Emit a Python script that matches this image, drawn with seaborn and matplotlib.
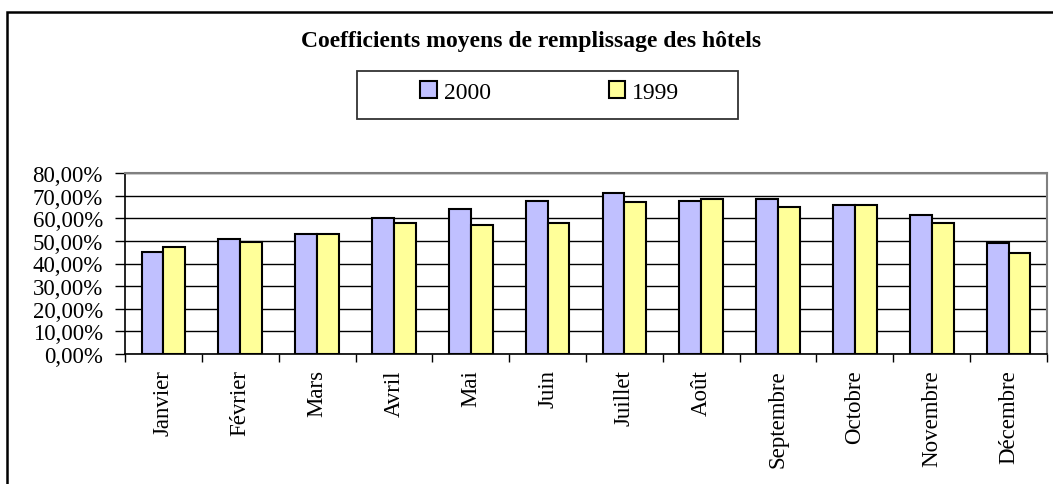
import numpy as np
import pandas as pd
import matplotlib.pyplot as plt
import matplotlib.patches as mpatches
from matplotlib.ticker import FixedLocator
import seaborn as sns

months = ["Janvier", "Février", "Mars", "Avril", "Mai", "Juin",
          "Juillet", "Août", "Septembre", "Octobre", "Novembre", "Décembre"]
taux_2000 = [0.45, 0.51, 0.53, 0.60, 0.64, 0.675, 0.71, 0.675, 0.685, 0.66, 0.615, 0.49]
taux_1999 = [0.475, 0.494, 0.53, 0.58, 0.572, 0.58, 0.67, 0.685, 0.65, 0.66, 0.58, 0.448]
series = ["2000", "1999"]
colors = {"2000": "#C0C0FF", "1999": "#FFFF99"}
y_ticks = [0.0, 0.1, 0.2, 0.3, 0.4, 0.5, 0.6, 0.7, 0.8]

df = pd.DataFrame({
    "Mois": months * 2,
    "Taux": taux_2000 + taux_1999,
    "Année": ["2000"] * len(months) + ["1999"] * len(months),
})

sns.set_theme(style="white")
plt.rcParams["font.family"] = ["Liberation Serif", "DejaVu Serif"]
plt.rcParams.update({"text.color": "black", "xtick.color": "black",
                     "ytick.color": "black", "axes.labelcolor": "black"})

W, H = 1053, 485
fig = plt.figure(figsize=(W / 100, H / 100), dpi=100)

# outer chart frame (only left and top edges visible)
fig.patches.append(mpatches.Rectangle((7 / W, -10 / H), (W + 10) / W, (H - 3) / H,
                                      transform=fig.transFigure, fill=False,
                                      edgecolor="black", linewidth=1.8))

ax = fig.add_axes([125 / W, (H - 355) / H, 922 / W, 181 / H])
sns.barplot(data=df, x="Mois", y="Taux", hue="Année", hue_order=series,
            palette=colors, width=0.57, edgecolor="black", linewidth=1.5,
            saturation=1, legend=False, ax=ax)

ax.set_ylim(0, 0.8)
ax.set_xlim(-0.5, len(months) - 0.5)
ax.yaxis.set_major_locator(FixedLocator(y_ticks))
ax.yaxis.set_major_formatter(lambda v, p: f"{v * 100:.2f}%".replace(".", ","))
ax.grid(axis="y", color="black", linewidth=1)
ax.set_axisbelow(True)
ax.set_xlabel("")
ax.set_ylabel("")

# category ticks sit between months
ax.set_xticks(np.arange(len(months)))
ax.set_xticklabels(months, rotation=90, fontsize=16.5)
ax.tick_params(axis="x", length=0, pad=11)
ax.set_xticks(np.arange(-0.5, len(months)), minor=True)
ax.tick_params(axis="x", which="minor", length=6, width=1, color="black",
               direction="out", bottom=True)
ax.tick_params(axis="y", length=7, width=1, color="black", direction="out",
               left=True, labelsize=16.5, pad=9)

for side in ["top", "right"]:
    ax.spines[side].set_color("#808080")
    ax.spines[side].set_linewidth(1.5)
for side in ["left", "bottom"]:
    ax.spines[side].set_color("black")
    ax.spines[side].set_linewidth(1.2)

fig.text(531 / W, 1 - 42 / H, "Coefficients moyens de remplissage des hôtels",
         ha="center", va="center", fontsize=17, fontweight="bold")

# legend box like the spreadsheet one
fig.patches.append(mpatches.Rectangle((357 / W, 1 - 120 / H), 381 / W, 48 / H,
                                      transform=fig.transFigure, fill=False,
                                      edgecolor="#333333", linewidth=1.3))
handles = [mpatches.Patch(facecolor=colors[s], edgecolor="black", linewidth=1.5)
           for s in series]
fig.legend(handles, series, loc="center left",
           bbox_to_anchor=(420 / W, 1 - 93 / H), ncol=2, frameon=False,
           fontsize=17, handlelength=0.7, handleheight=0.7,
           handletextpad=0.3, columnspacing=5.0, borderpad=0, borderaxespad=0)

fig.savefig("out.png", dpi=100)
